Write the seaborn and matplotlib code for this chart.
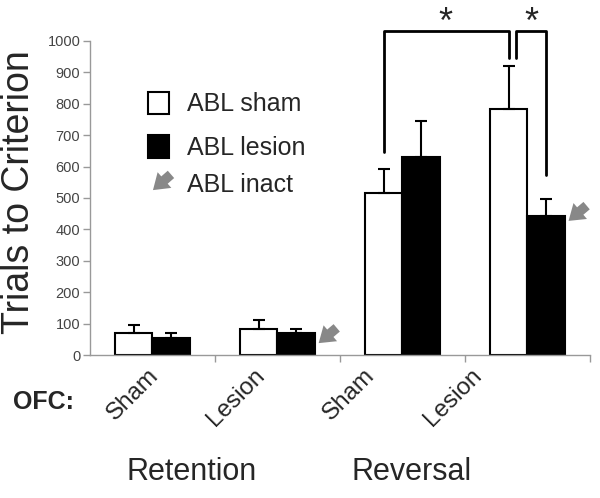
import pandas as pd
import matplotlib.pyplot as plt
import seaborn as sns
from matplotlib.patches import Rectangle

# 数据：四组（保持/反转 × OFC 假手术/损伤）
groups = ['Ret-Sham', 'Ret-Lesion', 'Rev-Sham', 'Rev-Lesion']
ofc_labels = ['Sham', 'Lesion', 'Sham', 'Lesion']
phase_labels = ['Retention', 'Reversal']
sham_mean = [70, 83, 517, 784]
sham_sem = [25, 28, 76, 137]
lesion_mean = [53, 70, 630, 442]
lesion_sem = [16, 14, 114, 55]
inact_groups = [1, 3]          # 有 ABL inact 箭头的组
inact_y = [38, 427]            # 箭头指向的高度
yticks = list(range(0, 1001, 100))

sns.set_style('white')
plt.rcParams['font.family'] = ['Liberation Sans', 'DejaVu Sans']

df = pd.DataFrame({
    'group': groups * 2,
    'trials': sham_mean + lesion_mean,
    'ABL': ['sham'] * 4 + ['lesion'] * 4,
})

fig = plt.figure(figsize=(6, 4.98), dpi=100)
ax = fig.add_axes([0.15, 0.287, 0.833, 0.631])

sns.barplot(data=df, x='group', y='trials', hue='ABL', order=groups,
            hue_order=['sham', 'lesion'], palette=['white', 'black'],
            width=0.6, edgecolor='black', linewidth=1.5, saturation=1,
            legend=False, ax=ax)

# 误差线（只画向上）
centers = {}
for cont, sem, name in zip(ax.containers, [sham_sem, lesion_sem], ['sham', 'lesion']):
    xs = [p.get_x() + p.get_width() / 2 for p in cont.patches]
    hs = [p.get_height() for p in cont.patches]
    centers[name] = xs
    ax.errorbar(xs, hs, yerr=[[0] * len(sem), sem], fmt='none', ecolor='black',
                elinewidth=1.5, capsize=4, capthick=1.5, zorder=3)

ax.set_xlim(-0.5, 3.5)
ax.set_ylim(0, 1000)
ax.set_yticks(yticks)
ax.tick_params(axis='y', labelsize=10.5, labelcolor='#444', color='#999',
               length=5, width=1, direction='out', left=True, pad=2)
ax.set_xticks([])
ax.set_xticks([0.5, 1.5, 2.5, 3.5], minor=True)
ax.tick_params(axis='x', which='minor', bottom=True, length=5, color='#999', width=1)
ax.set_xlabel(''); ax.set_ylabel('')
for s in ['top', 'right']:
    ax.spines[s].set_visible(False)
for s in ['left', 'bottom']:
    ax.spines[s].set_color('#999')
    ax.spines[s].set_linewidth(1)

# 显著性括号
top = 1030
x1, x2 = centers['sham'][2], centers['sham'][3]
x3, x4 = centers['sham'][3] + 0.06, centers['lesion'][3]
ax.plot([x1, x1, x2, x2], [645, top, top, 945], color='black', lw=2, clip_on=False)
ax.plot([x3, x3, x4, x4], [945, top, top, 573], color='black', lw=2, clip_on=False)
ax.text(2.348, 1025, '*', fontsize=26, ha='center', va='baseline', clip_on=False)
ax.text(3.036, 1025, '*', fontsize=26, ha='center', va='baseline', clip_on=False)

# ABL inact 箭头
arrow_kw = dict(arrowstyle='simple,head_length=0.55,head_width=0.75,tail_width=0.35',
                color='#888', lw=0, mutation_scale=20, shrinkA=0, shrinkB=0)
lesion_patches = ax.containers[1].patches
for g, yv in zip(inact_groups, inact_y):
    p = lesion_patches[g]
    ax.annotate('', xy=(p.get_x() + p.get_width() + 0.03, yv),
                xytext=(13, 11), textcoords='offset points', arrowprops=arrow_kw)

# 图例（手动）
ax.add_patch(Rectangle((0.116, 0.768), 0.042, 0.07, transform=ax.transAxes,
                       facecolor='white', edgecolor='black', lw=1.5, clip_on=False))
ax.add_patch(Rectangle((0.116, 0.627), 0.042, 0.073, transform=ax.transAxes,
                       facecolor='black', edgecolor='black', lw=1.5, clip_on=False))
ax.annotate('', xy=(0.126, 0.525), xycoords='axes fraction',
            xytext=(0.162, 0.575), textcoords='axes fraction', arrowprops=arrow_kw)
for yy, t in zip([0.8, 0.66, 0.541], ['ABL sham', 'ABL lesion', 'ABL inact']):
    ax.text(0.194, yy, t, transform=ax.transAxes, fontsize=18, ha='left', va='center')

# x 轴标签
for xx, t in zip([0.146, 0.358, 0.578, 0.792], ofc_labels):
    ax.text(xx, -0.03, t, transform=ax.transAxes, rotation=45, fontsize=17.5,
            ha='right', va='top')
fig.text(13 / 600, 1 - 402 / 498, 'OFC:', fontsize=18, fontweight='bold',
         ha='left', va='center')
for xx, t in zip([192, 412], phase_labels):
    fig.text(xx / 600, 1 - 472 / 498, t, fontsize=22, ha='center', va='center')
fig.text(19 / 600, 1 - 192 / 498, 'Trials to Criterion', fontsize=27, rotation=90,
         ha='center', va='center')

fig.savefig('out.png', dpi=100)
